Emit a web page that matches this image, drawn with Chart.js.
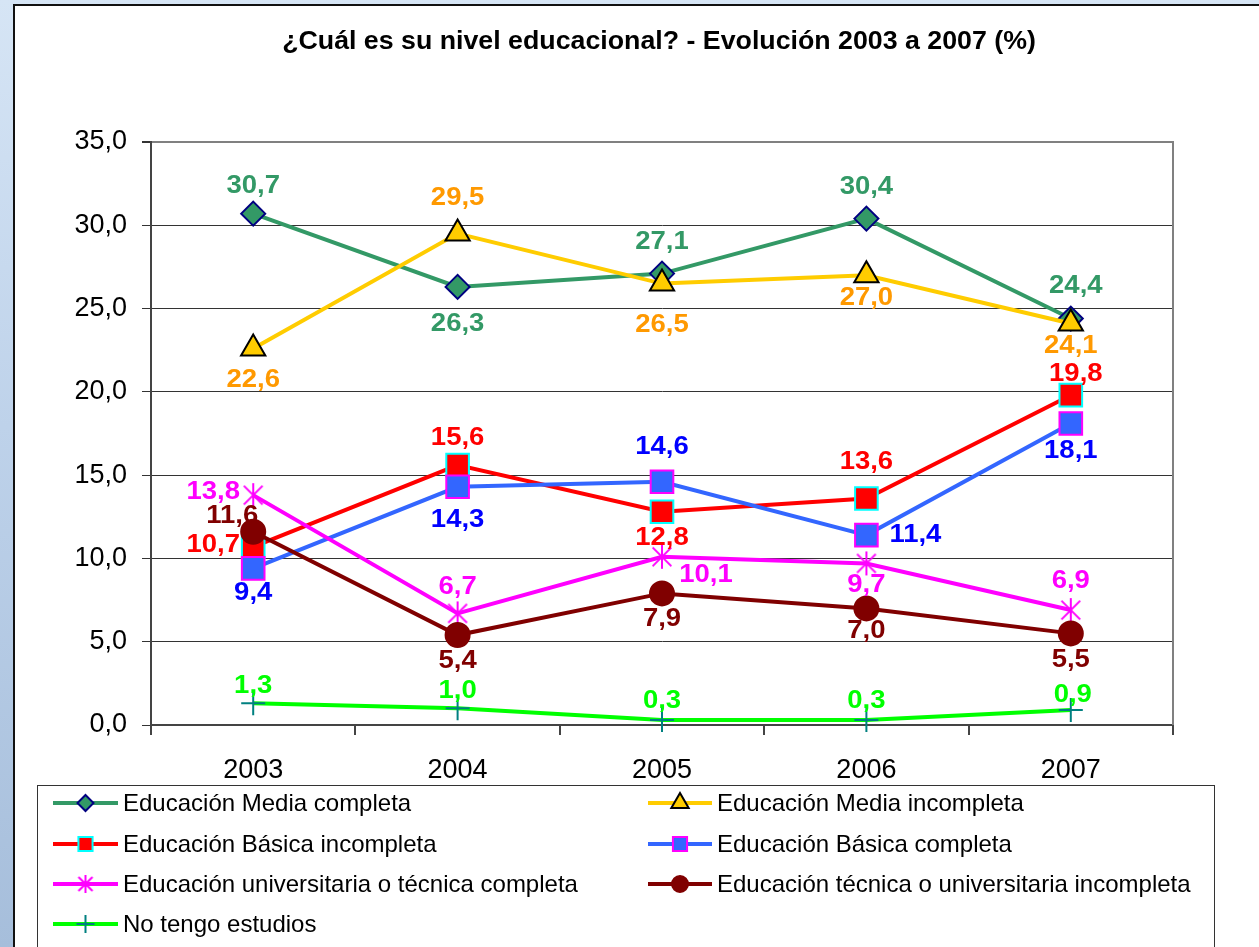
<!DOCTYPE html>
<html><head><meta charset="utf-8">
<script src="https://cdn.jsdelivr.net/npm/chart.js@4/dist/chart.umd.min.js"></script>
<style>
html,body{margin:0;padding:0;width:1259px;height:947px;overflow:hidden;}
body{background:linear-gradient(to bottom,#d6e5f5 0%,#bed2ea 45%,#a6bedb 100%);position:relative;font-family:"Liberation Sans",Arial,sans-serif;}
#panel{position:absolute;left:13px;top:4px;width:1300px;height:1000px;background:#fff;border-left:2px solid #111;border-top:2px solid #111;}
#wrap{position:absolute;left:0;top:0;width:1259px;height:947px;}
</style></head><body>
<div id="panel"></div>
<div id="wrap"><canvas id="c" width="1259" height="947"></canvas></div>
<script>
// ---------- data ----------
const categories = ['2003', '2004', '2005', '2006', '2007'];
const titleText = '¿Cuál es su nivel educacional? - Evolución 2003 a 2007 (%)';
const seriesNames = [
  'Educación Media completa',
  'Educación Media incompleta',
  'Educación Básica incompleta',
  'Educación Básica completa',
  'Educación universitaria o técnica completa',
  'Educación técnica o universitaria incompleta',
  'No tengo estudios'
];
const mediaCompleta      = [30.7, 26.3, 27.1, 30.4, 24.4];
const mediaIncompleta    = [22.6, 29.5, 26.5, 27.0, 24.1];
const basicaIncompleta   = [10.7, 15.6, 12.8, 13.6, 19.8];
const basicaCompleta     = [9.4, 14.3, 14.6, 11.4, 18.1];
const univCompleta       = [13.8, 6.7, 10.1, 9.7, 6.9];
const tecnicaIncompleta  = [11.6, 5.4, 7.9, 7.0, 5.5];
const sinEstudios        = [1.3, 1.0, 0.3, 0.3, 0.9];
const yTicks = [0, 5, 10, 15, 20, 25, 30, 35];

// ---------- styles ----------
const FONT = '"Liberation Sans", Arial, sans-serif';
function makeAsterisk(r, color, lw) {
  const s = Math.ceil(r * 2 + lw * 2 + 2);
  const c = document.createElement('canvas'); c.width = s; c.height = s;
  const g = c.getContext('2d'); g.strokeStyle = color; g.lineWidth = lw;
  const m = s / 2, d = r * 0.78;
  g.beginPath();
  g.moveTo(m, m - r); g.lineTo(m, m + r);
  g.moveTo(m - d, m - d); g.lineTo(m + d, m + d);
  g.moveTo(m + d, m - d); g.lineTo(m - d, m + d);
  g.stroke();
  return c;
}
const astBig = makeAsterisk(12, '#FF00FF', 2);
const astSmall = makeAsterisk(9, '#FF00FF', 2);

const styles = [
  {line:'#339966', fill:'#339966', border:'#000080', ps:'rectRot', r:12, lr:8, label:'#339966'},
  {line:'#FFCC00', fill:'#FFCC00', border:'#000000', ps:'triangle', r:14, lr:10, label:'#FF9900'},
  {line:'#FF0000', fill:'#FF0000', border:'#00FFFF', ps:'rect', r:16, lr:10, label:'#FF0000'},
  {line:'#3366FF', fill:'#3366FF', border:'#FF00FF', ps:'rect', r:16, lr:10, label:'#0000FF'},
  {line:'#FF00FF', fill:'#FF00FF', border:'#FF00FF', ps:astBig, lps:astSmall, r:12, lr:9, label:'#FF00FF'},
  {line:'#800000', fill:'#800000', border:'#800000', ps:'circle', r:12, lr:8, label:'#800000'},
  {line:'#00FF00', fill:'#008080', border:'#008080', ps:'cross', r:12, lr:9, label:'#00FF00'}
];
// label offsets (pixels) relative to each point
const labelOffsets = [
  [[0,-28],[0,37],[0,-31],[0,-32],[5,-32]],
  [[0,32],[0,-36],[0,42],[0,23],[0,23]],
  [[-40,-2],[0,-27],[0,26],[0,-36],[5,-21]],
  [[0,25],[0,33],[0,-35],[49,0],[0,28]],
  [[-40,-3],[0,-26],[44,18],[0,22],[0,-29]],
  [[-21,-16],[0,26],[0,26],[0,23],[0,27]],
  [[0,-17],[0,-17],[0,-19],[0,-19],[2,-15]]
];
const allSeries = [mediaCompleta, mediaIncompleta, basicaIncompleta, basicaCompleta, univCompleta, tecnicaIncompleta, sinEstudios];
const fmt = v => v.toFixed(1).replace('.', ',');

function drawMarker(ctx, style, r, x, y, fill, border, lw) {
  if (typeof style !== 'string') { ctx.drawImage(style, x - style.width / 2, y - style.height / 2); return; }
  ctx.save();
  ctx.fillStyle = fill; ctx.strokeStyle = border; ctx.lineWidth = lw;
  ctx.beginPath();
  if (style === 'circle') { ctx.arc(x, y, r, 0, Math.PI * 2); ctx.fill(); ctx.stroke(); }
  else if (style === 'rect') { const s = r * Math.SQRT1_2; ctx.rect(x - s, y - s, 2 * s, 2 * s); ctx.fill(); ctx.stroke(); }
  else if (style === 'rectRot') { ctx.moveTo(x, y - r); ctx.lineTo(x + r, y); ctx.lineTo(x, y + r); ctx.lineTo(x - r, y); ctx.closePath(); ctx.fill(); ctx.stroke(); }
  else if (style === 'triangle') {
    ctx.moveTo(x, y - r); ctx.lineTo(x + r * Math.cos(Math.PI / 6), y + r / 2); ctx.lineTo(x - r * Math.cos(Math.PI / 6), y + r / 2); ctx.closePath(); ctx.fill(); ctx.stroke();
  } else if (style === 'cross') { ctx.moveTo(x - r, y); ctx.lineTo(x + r, y); ctx.moveTo(x, y - r); ctx.lineTo(x, y + r); ctx.stroke(); }
  ctx.restore();
}

const datasets = allSeries.map((vals, i) => ({
  label: seriesNames[i],
  data: vals,
  borderColor: styles[i].line,
  backgroundColor: styles[i].fill,
  borderWidth: 4,
  pointStyle: styles[i].ps,
  pointRadius: styles[i].r,
  pointHoverRadius: styles[i].r,
  pointBackgroundColor: styles[i].fill,
  pointBorderColor: styles[i].border,
  pointBorderWidth: 2,
  tension: 0,
  fill: false,
  clip: false,
  order: 7 - i
}));

function stretchedText(ctx, text, x, y, sx) {
  ctx.save();
  ctx.translate(x, y);
  ctx.scale(sx, 1);
  ctx.fillText(text, 0, 0);
  ctx.restore();
}

const decoPlugin = {
  id: 'deco',
  beforeDraw(chart) {
    const ctx = chart.ctx;
    ctx.save();
    ctx.font = 'bold 25px ' + FONT;
    ctx.fillStyle = '#000'; ctx.textAlign = 'center'; ctx.textBaseline = 'middle';
    stretchedText(ctx, titleText, 659, 42, 1.07);
    ctx.restore();
  },
  afterDraw(chart) {
    const ctx = chart.ctx, a = chart.chartArea;
    ctx.save();
    // right border of plot
    ctx.strokeStyle = '#808080'; ctx.lineWidth = 2;
    ctx.beginPath(); ctx.moveTo(a.right, a.top - 1); ctx.lineTo(a.right, a.bottom); ctx.stroke();
    // legend box
    ctx.strokeStyle = '#333'; ctx.lineWidth = 1;
    ctx.strokeRect(37.5, 785.5, 1177, 200);
    const rows = [803, 844, 884, 924];
    seriesNames.forEach((name, i) => {
      const col = i % 2, row = Math.floor(i / 2);
      const x0 = col ? 648 : 53, x1 = col ? 712 : 118, y = rows[row];
      const st = styles[i];
      ctx.strokeStyle = st.line; ctx.lineWidth = 4;
      ctx.beginPath(); ctx.moveTo(x0, y); ctx.lineTo(x1, y); ctx.stroke();
      drawMarker(ctx, st.lps || st.ps, st.lr, (x0 + x1) / 2, y, st.fill, st.border, 2);
      ctx.fillStyle = '#000'; ctx.font = '24px ' + FONT; ctx.textAlign = 'left'; ctx.textBaseline = 'middle';
      ctx.fillText(name, x1 + 5, y + 1);
    });
    ctx.restore();
  },
  afterDatasetsDraw(chart) {
    const ctx = chart.ctx;
    ctx.save();
    ctx.font = 'bold 25px ' + FONT; ctx.textAlign = 'center'; ctx.textBaseline = 'middle';
    chart.data.datasets.forEach((ds, i) => {
      const meta = chart.getDatasetMeta(i);
      meta.data.forEach((pt, j) => {
        const off = labelOffsets[i][j];
        ctx.fillStyle = styles[i].label;
        stretchedText(ctx, fmt(ds.data[j]), pt.x + off[0], pt.y + off[1], 1.1);
      });
    });
    ctx.restore();
  }
};

new Chart(document.getElementById('c'), {
  type: 'line',
  data: { labels: categories, datasets },
  plugins: [decoPlugin],
  options: {
    responsive: false,
    animation: false,
    devicePixelRatio: 1,
    layout: { padding: { top: 142, right: 86, bottom: 162, left: 0 } },
    plugins: { legend: { display: false }, title: { display: false }, tooltip: { enabled: false } },
    scales: {
      x: {
        type: 'category',
        offset: true,
        grid: { offset: true, drawOnChartArea: false, drawTicks: true, tickLength: 10, color: '#444', lineWidth: 2 },
        border: { color: '#444', width: 2 },
        ticks: { padding: 19, color: '#000', font: { size: 27, family: FONT } },
        afterFit(s) { s.height = 60; }
      },
      y: {
        min: 0, max: 35,
        afterBuildTicks(s) { s.ticks = yTicks.map(v => ({ value: v })); },
        grid: {
          color: c => c.tick && c.tick.value === 35 ? '#808080' : '#333',
          lineWidth: c => c.tick && c.tick.value === 35 ? 2 : 1,
          tickColor: '#333', tickLength: 9, drawTicks: true
        },
        border: { color: '#444', width: 2 },
        ticks: { padding: 15, color: '#000', font: { size: 27, family: FONT }, callback: v => fmt(v) },
        afterFit(s) { s.width = 151; }
      }
    }
  }
});
</script>
</body></html>
